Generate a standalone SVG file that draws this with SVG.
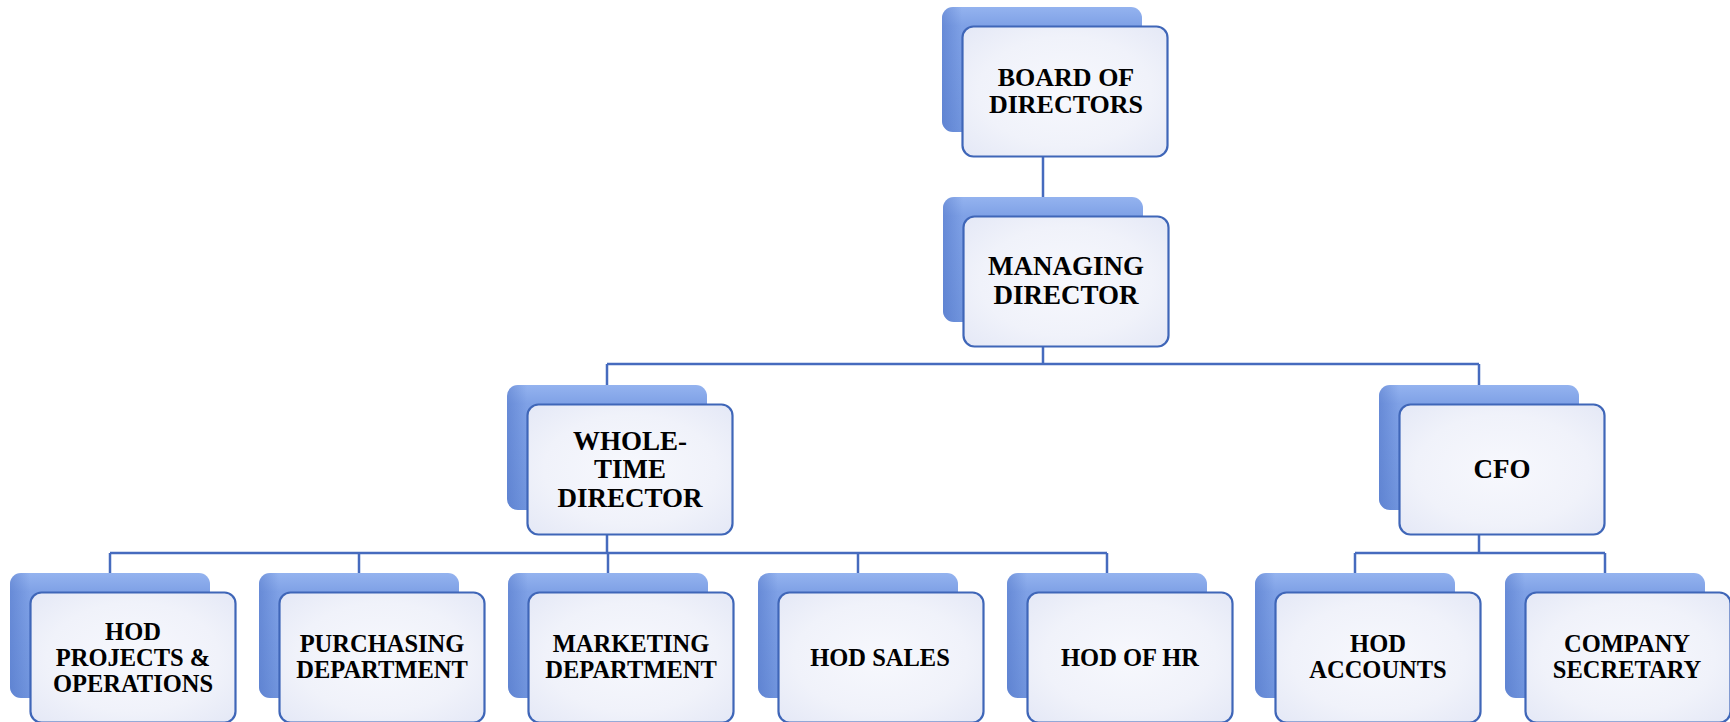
<svg xmlns="http://www.w3.org/2000/svg" width="1730" height="722" viewBox="0 0 1730 722">
<defs>
<linearGradient id="backG" x1="0" y1="0" x2="0" y2="1">
<stop offset="0" stop-color="#94B3EF"/>
<stop offset="0.15" stop-color="#7FA1E6"/>
<stop offset="1" stop-color="#7094DD"/>
</linearGradient>
<linearGradient id="backL" x1="0" y1="0" x2="1" y2="0">
<stop offset="0" stop-color="#4A6FC4" stop-opacity="0.45"/>
<stop offset="0.1" stop-color="#4A6FC4" stop-opacity="0"/>
</linearGradient>
<radialGradient id="frontG" cx="0.5" cy="0.5" r="0.7">
<stop offset="0" stop-color="#F7F8FD"/>
<stop offset="0.6" stop-color="#F0F2FA"/>
<stop offset="1" stop-color="#E4E8F6"/>
</radialGradient>
<g id="card">
<rect x="0" y="0" width="200" height="125" rx="11" fill="url(#backG)"/>
<rect x="0" y="0" width="200" height="125" rx="11" fill="url(#backL)"/>
<rect x="20.5" y="19.5" width="205" height="130" rx="11" fill="url(#frontG)" stroke="#3F66B8" stroke-width="2.2"/>
</g>
</defs>
<style>
.t{font-family:"Liberation Serif","Times New Roman",serif;font-weight:bold;fill:#000;text-anchor:middle}
.big{font-size:27px}
.mid{font-size:26px}
.sm{font-size:24.5px}
.c{fill:none;stroke:#466BBE;stroke-width:2.5}
</style>
<rect width="1730" height="722" fill="#fff"/>
<g id="connectors">
<path class="c" d="M1043 157 V197"/>
<path class="c" d="M1043 347 V364 M607 364 H1479 M607 364 V385 M1479 364 V385"/>
<path class="c" d="M607 535 V553 M110 553 H1107 M110 553 V573 M359 553 V573 M608 553 V573 M858 553 V573 M1107 553 V573"/>
<path class="c" d="M1479 535 V553 M1355 553 H1605 M1355 553 V573 M1605 553 V573"/>
</g>
<g id="board">
<use href="#card" x="942" y="7"/>
<text class="t mid" x="1066" y="86">BOARD OF</text>
<text class="t mid" x="1066" y="113">DIRECTORS</text>
</g>
<g id="md">
<use href="#card" x="943" y="197"/>
<text class="t big" x="1066" y="275">MANAGING</text>
<text class="t big" x="1066" y="304">DIRECTOR</text>
</g>
<g id="wtd">
<use href="#card" x="507" y="385"/>
<text class="t big" x="630" y="450">WHOLE-</text>
<text class="t big" x="630" y="478">TIME</text>
<text class="t big" x="630" y="507">DIRECTOR</text>
</g>
<g id="cfo">
<use href="#card" x="1379" y="385"/>
<text class="t big" x="1502" y="478">CFO</text>
</g>
<g id="hod-projects">
<use href="#card" x="10" y="573"/>
<text class="t sm" x="133" y="640">HOD</text>
<text class="t sm" x="133" y="666">PROJECTS &amp;</text>
<text class="t sm" x="133" y="692">OPERATIONS</text>
</g>
<g id="purchasing">
<use href="#card" x="259" y="573"/>
<text class="t sm" x="382" y="652">PURCHASING</text>
<text class="t sm" x="382" y="678">DEPARTMENT</text>
</g>
<g id="marketing">
<use href="#card" x="508" y="573"/>
<text class="t sm" x="631" y="652">MARKETING</text>
<text class="t sm" x="631" y="678">DEPARTMENT</text>
</g>
<g id="hod-sales">
<use href="#card" x="758" y="573"/>
<text class="t sm" x="880" y="666">HOD SALES</text>
</g>
<g id="hod-hr">
<use href="#card" x="1007" y="573"/>
<text class="t sm" x="1130" y="666">HOD OF HR</text>
</g>
<g id="hod-accounts">
<use href="#card" x="1255" y="573"/>
<text class="t sm" x="1378" y="652">HOD</text>
<text class="t sm" x="1378" y="678">ACCOUNTS</text>
</g>
<g id="secretary">
<use href="#card" x="1505" y="573"/>
<text class="t sm" x="1627" y="652">COMPANY</text>
<text class="t sm" x="1627" y="678">SECRETARY</text>
</g>
</svg>
